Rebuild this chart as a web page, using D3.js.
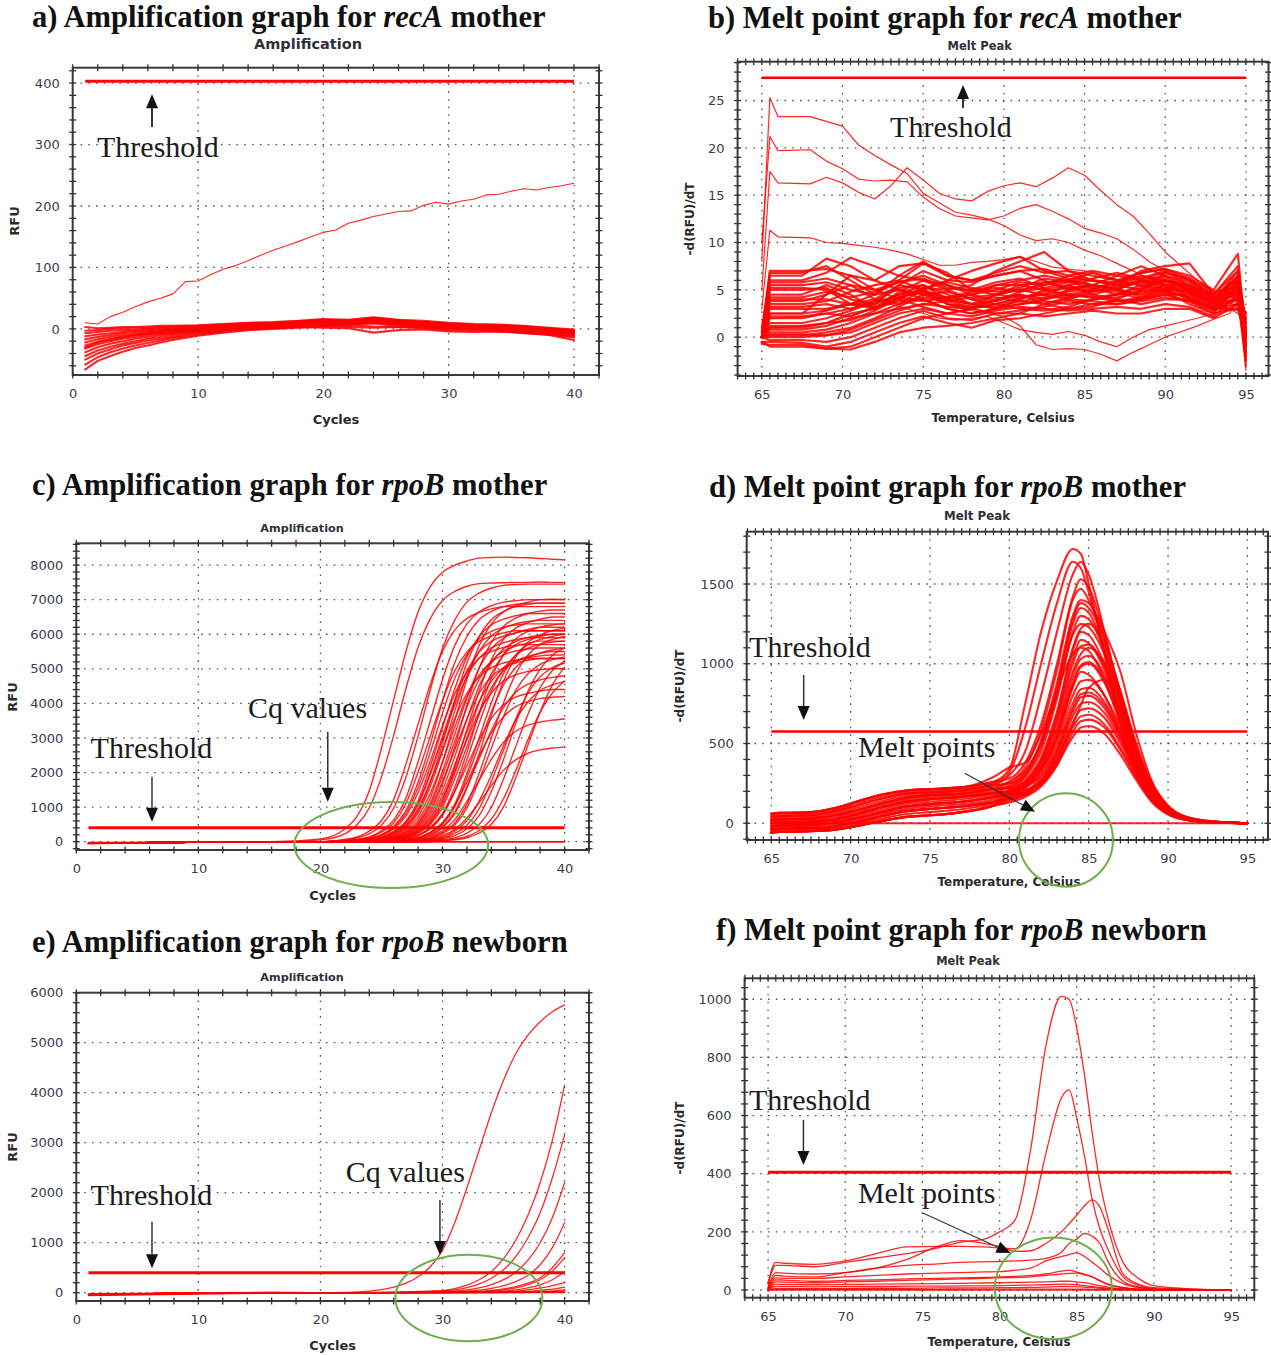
<!DOCTYPE html>
<html lang="en">
<head>
<meta charset="UTF-8">
<title>qPCR amplification and melt peak graphs</title>
<script src="https://d3js.org/d3.v7.min.js"></script>
<style>
  html, body { margin: 0; padding: 0; background: #fff; }
</style>
</head>
<body>
<div id="chart"></div>
<script>
// ---------- values ----------

// a) recA mother, amplification (RFU per cycle)
const aCycles = d3.range(1, 41);
const aRising = [10, 8, 20, 27, 36, 44, 50, 57, 77, 78, 88, 97, 103, 111, 120, 128, 135, 142, 150, 157,
  161, 172, 177, 183, 187, 191, 192, 201, 206, 203, 208, 211, 218, 219, 224, 228, 226, 230, 233, 237];
const aBaseCycles = [1, 2, 3, 4, 5, 6, 7, 8, 10, 12, 14, 16, 18, 20, 22, 24, 26, 28, 30, 32, 34, 36, 38, 40];
const aBaseline = [
  [-66, -52, -44, -37, -31, -27, -22, -18, -11, -6, -2, 0, 2, 4, 3, 2, 3, 1, -2, -3, -4, -7, -10, -18],
  [-58, -46, -38, -32, -27, -23, -19, -15, -9, -4, -1, 2, 3, 5, 6, 4, 3, 2, 0, -1, -2, -4, -9, -14],
  [-50, -40, -33, -27, -23, -19, -16, -13, -7, -3, 1, 2, 5, 6, 7, 9, 5, 4, 1, 0, -1, -3, -7, -12],
  [-44, -35, -29, -24, -20, -16, -13, -10, -5, -2, 2, 3, 6, 8, 7, 10, 7, 4, 2, 1, 0, -2, -6, -10],
  [-38, -30, -24, -20, -16, -13, -10, -8, -4, 0, 3, 5, 6, 9, 8, 11, 8, 6, 3, 2, 1, 0, -5, -9],
  [-32, -25, -20, -16, -13, -10, -8, -6, -2, 1, 4, 5, 8, 10, 9, 12, 9, 7, 4, 3, 1, -1, -4, -8],
  [-27, -21, -17, -13, -10, -8, -6, -4, -1, 2, 4, 7, 8, 12, 10, 13, 10, 8, 5, 3, 2, 0, -3, -7],
  [-22, -17, -13, -10, -8, -6, -4, -2, 0, 3, 5, 7, 9, 11, 11, 15, 12, 9, 6, 5, 3, 1, -2, -6],
  [-17, -13, -10, -7, -5, -4, -2, -1, 1, 4, 6, 8, 10, 12, 12, 16, 13, 10, 7, 5, 4, 2, -1, -5],
  [-12, -9, -7, -5, -3, -2, -1, 0, 2, 5, 7, 9, 11, 13, 13, 18, 14, 11, 8, 6, 5, 3, 0, -4],
  [-7, -5, -3, -2, -1, 0, 1, 2, 4, 6, 8, 10, 12, 15, 14, 16, 12, 11, 9, 7, 6, 4, 1, -3],
  [-3, -2, 0, 1, 2, 2, 3, 4, 5, 7, 9, 10, 12, 14, 13, 12, 11, 10, 8, 6, 5, 3, 0, -2],
  [3, 1, 2, 3, 3, 4, 5, 5, 6, 8, 10, 11, 13, 16, 15, 19, 15, 13, 10, 8, 7, 5, 2, -1],
  [-30, -22, -17, -13, -10, -8, -6, -5, -3, -1, 1, 2, 3, 2, 1, -6, -2, -1, -4, -5, -4, -6, -9, -12]
];
const aThreshold = 403;

// b) recA mother, melt peak (-d(RFU)/dT per degree C)
const bTempsFine = [65, 65.5, 66, 68, 69, 70, 71, 72, 73, 74, 75, 76, 77, 78, 79, 80, 81, 82, 83, 84,
  85, 86, 87, 88, 89, 90, 91, 92, 93, 94, 94.5, 95];
const bOutliers = [
  [8, 25.3, 23.3, 23.3, 22.8, 22.3, 20.3, 19.2, 18.2, 17.3, 15.2, 14.2, 13.2, 12.9, 12.5, 11.8, 10.8, 10.2, 10.4, 10, 9.2, 8.6, 7.8, 7, 6.2, 5.6, 5, 4.3, 3.6, 3, 2.5, 1.5],
  [10, 21.2, 19.7, 19.8, 18.6, 17.8, 16.7, 16.5, 16.6, 16.4, 14.8, 13.6, 12.8, 12.6, 12.4, 12.8, 13.6, 14, 13.3, 12.5, 11.5, 11, 10.4, 9.3, 8, 7, 6, 4.8, 3.5, 3, 3.5, 2],
  [5, 17.5, 16.3, 16.2, 16.9, 16.3, 15.3, 14.6, 16, 17.9, 16.6, 15.2, 14.6, 14.4, 15.4, 16, 16.3, 15.9, 16.8, 17.9, 17.1, 15.5, 14, 12.8, 11, 9, 7.5, 6, 4.5, 3.8, 3, 2.5],
  [3, 11.3, 10.6, 10.5, 10, 9.9, 9.7, 9.5, 9.2, 8.8, 8.2, 7.6, 7.6, 7.9, 8, 8.2, 8.5, 8, 7.4, 7.2, 7, 6.6, 6.1, 5.6, 5.1, 4.6, 4, 3.6, 3.2, 3, 2.8, 2],
  [0, 2, 2, 2.2, 2.8, 3.5, 3.3, 3, 4, 5, 4.5, 3.8, 3.2, 2.8, 2.5, 2.2, 1.2, -0.8, -1.3, -1.2, -1.3, -1.8, -2.5, -1.6, -0.8, 0, 0.6, 1.2, 1.9, 2.5, 4, 1],
  [0, 1, 1, 1.2, 1.5, 2, 2.5, 3, 3.5, 3, 2.5, 2, 1.8, 2, 2.2, 1.5, 0.8, 0.5, 0.3, 0.6, 0.2, -0.5, -1, 0, 0.8, 1.2, 1.6, 2, 2.5, 3, 6, -3.5]
];
const bTemps = [65, 65.5, 67.5, 69, 70.5, 72, 73.5, 75, 76.5, 78, 79.5, 81, 82.5, 84, 85.5, 87, 88.5, 90, 91.5, 93, 94.5, 95];
const bBand = [
  [0.5, 7, 7, 7.2, 6.5, 5, 5.8, 6.5, 5.5, 4.8, 5.5, 6, 6.5, 6, 5.5, 5, 6, 6.5, 5.5, 4, 5, 1],
  [0, 6.5, 6.5, 8.3, 7.5, 6, 7.5, 7.8, 6.5, 6, 6.8, 7.5, 6.8, 7, 6.5, 6, 6.8, 7.2, 6.5, 5, 8.8, 0],
  [1, 6, 6, 6.8, 8.4, 7.5, 6.5, 6, 5, 5.5, 7, 8, 9, 7, 6, 5.5, 7, 7.5, 7.8, 4.5, 6, -1],
  [0, 5.5, 5.5, 5.8, 5, 4.5, 6, 7.8, 6.8, 5, 4.5, 5, 5.5, 6.5, 7, 6.5, 6, 5.5, 5, 3.8, 7, 0.5],
  [0, 5, 5, 5.2, 4, 3.5, 5.5, 7, 6, 5.8, 6.5, 7, 6, 5, 5.5, 6.5, 7.5, 6.5, 5.8, 4, 5.5, -2],
  [0, 4.5, 4.5, 5.5, 4.5, 3, 4.8, 6, 5.5, 4.5, 5, 5.8, 5.5, 6, 6.8, 6, 5.5, 6, 5.5, 3.5, 6.5, 2],
  [0, 4, 4, 4, 3.5, 3.5, 4.5, 5.5, 4, 3.5, 4.5, 5, 4.5, 5.5, 6, 5.5, 5, 6.8, 6, 4.2, 5, -1.5],
  [0, 3.5, 3.5, 3.8, 4.8, 5.5, 6, 5, 4, 4.5, 5.5, 5.5, 5, 4.5, 5, 5.8, 6.5, 6, 5, 3.8, 4.5, 1],
  [0, 3, 3, 3, 3.5, 4, 5.5, 5, 3.5, 3, 4, 4.5, 4, 5, 5.5, 5, 4.5, 5.5, 5.5, 4.5, 7.5, -0.5],
  [0, 2.5, 2.5, 2.8, 3.5, 4.5, 5, 4.5, 4.8, 4, 3.5, 4, 5, 5.5, 4.5, 4, 5, 6, 5, 3.5, 4, 2.5],
  [0, 2, 2, 2.5, 3, 3.5, 4.5, 4.8, 3.5, 3.2, 3.5, 4.2, 4.5, 4, 4.8, 5.5, 6, 5.5, 4.5, 3.5, 5, 0],
  [0, 1.5, 1.5, 2, 2.8, 3.8, 5.2, 5.5, 4.5, 3.5, 3, 3.5, 4, 4.5, 4.2, 4.5, 5.5, 5, 4, 3, 6, -2.5],
  [0, 1, 1, 1.5, 2.5, 3, 4, 5.2, 5, 4, 4.2, 3.8, 3.5, 4.2, 5, 4.8, 4, 4.5, 4.5, 3, 3.5, 1.5],
  [0, 0.8, 0.8, 1.2, 2, 2.5, 3.5, 4, 3, 2.5, 3, 3.5, 3.8, 3.5, 4, 4.2, 4.8, 5.5, 4.2, 2.8, 4, -1],
  [0, 0.5, 0.5, 0.8, 1.5, 2.5, 3, 3.5, 3.2, 3, 2.5, 2.8, 3.2, 3.8, 3.5, 3.5, 4, 4.8, 3.5, 2.5, 5.5, 0],
  [0, 0.2, 0.2, 0.5, 1, 2, 3.2, 4.5, 4, 3.5, 3.8, 4.5, 3.5, 3, 3.2, 4, 3.5, 4, 4, 3, 3, 2],
  [0, 0, 0, 0.2, 0.5, 1.5, 2.5, 3, 2.5, 2.2, 2.8, 3.2, 3, 2.8, 3, 3.2, 3, 3.5, 3.2, 2.2, 4.5, -3],
  [0, -0.3, -0.3, -0.5, 0, 1, 2, 2.8, 2, 1.8, 2.5, 2.5, 2.2, 2.5, 2.8, 2.5, 2.5, 3, 3, 2, 3.5, -0.5],
  [-0.5, -0.5, -0.6, -1, -0.5, 0.5, 1.5, 2.2, 1.5, 1, 1.8, 2, 2.5, 3, 3.5, 3.8, 4, 4.5, 3.8, 2.8, 5.5, 1],
  [-0.7, -0.8, -0.8, -1.2, -1, 0, 1, 2, 2.5, 3, 3.5, 3, 2.8, 3.2, 4, 4.5, 4.8, 5, 4.2, 3, 4, -1.5],
  [-0.5, -1, -1, -1.2, -1.3, -0.5, 0.5, 1, 1.2, 1.5, 2, 2.5, 3.5, 4, 3.8, 3.5, 3.8, 4.2, 3.8, 2.5, 3, 0.5],
  [0, 2.5, 2.5, 4.5, 6.5, 6, 5, 4, 3, 2.5, 3, 4, 4.8, 5.2, 5.5, 5, 4.5, 5, 4.8, 3.5, 4.5, -1],
  [0, 6.8, 6.8, 7.5, 6, 4.5, 6.5, 8, 6.5, 6, 6.5, 7, 7.2, 6.5, 6, 5.8, 6.2, 7, 6, 4.5, 7, -0.5],
  [0, 3.8, 3.8, 4.5, 5.5, 5, 4, 3.2, 2.5, 3, 4.5, 5.5, 5.8, 6, 5.5, 5.2, 5.8, 6.3, 5.2, 3.5, 6, 0],
  [0, 5.8, 5.8, 6.2, 5.5, 4, 3.5, 5, 6, 7, 7.8, 8.5, 7, 6.2, 6, 5.5, 5.8, 6, 5.5, 4, 6.5, 0],
  [0, 4.2, 4.2, 4.8, 4.2, 4.8, 5.8, 6.2, 5.2, 5, 5.8, 6.2, 5.2, 5.8, 6.2, 6.8, 6.2, 6.8, 6.2, 4.8, 5.2, 0.5],
  [0, 3.2, 3.2, 3.5, 3, 3.8, 4.2, 3.8, 4.2, 4.8, 5.2, 4.8, 5.8, 5.2, 4.8, 5.2, 5.8, 5.2, 4.8, 3.2, 4.8, -1],
  [0, 2.2, 2.2, 2.5, 2.2, 3.2, 3.8, 4.2, 3.8, 4.2, 4.5, 4.2, 4.5, 4.8, 5.2, 4.5, 5.2, 5.8, 5.2, 3.8, 5.8, 1.5],
  [0, 1.2, 1.2, 1.5, 1.8, 2.8, 4.2, 4.8, 4.2, 4.5, 3.8, 4.8, 5.2, 4.2, 4.5, 5.2, 4.2, 4.8, 4.2, 3.2, 4.2, -2],
  [0, 5.2, 5.2, 5, 3.5, 3.2, 4.2, 5.2, 5.8, 5.2, 4.8, 5.2, 6.2, 5.8, 5.2, 5.8, 6.8, 7.2, 6.2, 4.2, 6.2, 0],
  [0, 0.3, 0.3, 0.2, 0.8, 1.8, 2.8, 3.5, 3.8, 3.2, 3.2, 3.8, 4.2, 4.5, 4.2, 3.8, 4.2, 5.2, 4.8, 3.5, 4.8, 0.8]
];
const bThreshold = 27.4;

// c) and e) share one cycle grid
const ampCycles = [1, 16, 20, 22, 23, 24, 25, 26, 27, 28, 29, 30, 31, 32, 33, 34, 35, 36, 37, 38, 39, 40];

// c) rpoB mother, amplification
const cCurves = [
  [-40, 0, 82, 369, 738, 1476, 2706, 4100, 5494, 6642, 7380, 7790, 7995, 8118, 8200, 8220, 8230, 8220, 8210, 8190, 8170, 8150],
  [-40, 0, 53, 225, 488, 975, 1875, 3075, 4425, 5625, 6450, 6975, 7238, 7388, 7463, 7480, 7490, 7500, 7500, 7510, 7500, 7500],
  [-40, 0, 0, 52, 112, 224, 484, 969, 1863, 3055, 4396, 5588, 6407, 6929, 7189, 7338, 7413, 7440, 7450, 7450, 7450, 7450],
  [-40, 0, 0, 35, 70, 140, 315, 630, 1260, 2310, 3500, 4690, 5670, 6300, 6650, 6825, 6930, 6970, 7000, 7000, 7010, 7000],
  [-40, 0, 0, 28, 48, 104, 207, 449, 897, 1725, 2829, 4071, 5175, 5934, 6417, 6659, 6797, 6866, 6900, 6900, 6900, 6900],
  [-40, 0, 0, 25, 44, 95, 189, 410, 819, 1575, 2583, 3717, 4725, 5418, 5859, 6080, 6206, 6269, 6300, 6300, 6300, 6300],
  [-40, 0, 0, 0, 33, 66, 132, 297, 594, 1188, 2178, 3300, 4422, 5346, 5940, 6270, 6435, 6534, 6600, 6600, 6600, 6600],
  [-40, 0, 0, 0, 30, 59, 118, 266, 531, 1062, 1947, 2950, 3953, 4779, 5310, 5605, 5753, 5841, 5900, 5900, 5900, 5900],
  [-40, 0, 0, 0, 26, 45, 96, 192, 416, 832, 1600, 2624, 3776, 4800, 5504, 5952, 6176, 6304, 6368, 6400, 6400, 6400],
  [-40, 0, 0, 0, 22, 39, 84, 168, 364, 728, 1400, 2296, 3304, 4200, 4816, 5208, 5404, 5516, 5572, 5600, 5600, 5600],
  [-40, 0, 0, 0, 0, 31, 62, 124, 279, 558, 1116, 2046, 3100, 4154, 5022, 5580, 5890, 6045, 6138, 6200, 6200, 6200],
  [-40, 0, 0, 0, 0, 27, 53, 106, 239, 477, 954, 1749, 2650, 3551, 4293, 4770, 5035, 5168, 5247, 5300, 5300, 5300],
  [-40, 0, 0, 0, 0, 24, 42, 90, 180, 390, 780, 1500, 2460, 3540, 4500, 5160, 5580, 5790, 5910, 5970, 6000, 6000],
  [-40, 0, 0, 0, 0, 20, 35, 75, 150, 325, 650, 1250, 2050, 2950, 3750, 4300, 4650, 4825, 4925, 4975, 5000, 5000],
  [-40, 0, 0, 0, 0, 0, 33, 65, 130, 293, 585, 1170, 2145, 3250, 4355, 5265, 5850, 6175, 6338, 6435, 6500, 6500],
  [-40, 0, 0, 0, 0, 0, 22, 44, 88, 198, 396, 792, 1452, 2200, 2948, 3564, 3960, 4180, 4290, 4356, 4400, 4400],
  [-40, 0, 0, 0, 0, 0, 23, 41, 87, 174, 377, 754, 1450, 2378, 3422, 4350, 4988, 5394, 5597, 5713, 5771, 5800],
  [-40, 0, 0, 0, 0, 0, 17, 29, 63, 126, 273, 546, 1050, 1722, 2478, 3150, 3612, 3906, 4053, 4137, 4179, 4200],
  [-40, 0, 0, 0, 0, 0, 0, 18, 36, 71, 160, 320, 639, 1172, 1775, 2379, 2876, 3195, 3373, 3461, 3515, 3550],
  [-40, 0, 0, 0, 0, 0, 0, 28, 56, 112, 252, 504, 1008, 1848, 2800, 3752, 4536, 5040, 5320, 5460, 5544, 5600],
  [-40, 0, 0, 0, 0, 0, 0, 11, 19, 41, 83, 179, 358, 688, 1128, 1623, 2063, 2365, 2558, 2654, 2709, 2736],
  [-40, 0, 0, 0, 0, 0, 0, 0, 27, 54, 108, 243, 486, 972, 1782, 2700, 3618, 4374, 4860, 5130, 5265, 5346],
  [-40, 0, 0, 0, 0, 0, 0, 0, 0, 27, 53, 106, 239, 477, 954, 1749, 2650, 3551, 4293, 4770, 5035, 5168],
  [-40, 0, 0, 0, 0, 0, 0, 0, 0, 0, 28, 55, 110, 248, 495, 990, 1815, 2750, 3685, 4455, 4950, 5225],
  [-40, 0, 0, 0, 0, 0, 0, 0, 0, 0, 20, 35, 75, 150, 325, 650, 1250, 2050, 2950, 3750, 4300, 4650],
  [-40, 0, 0, 0, 0, 0, 0, 0, 0, 0, 0, 28, 56, 112, 252, 504, 1008, 1848, 2800, 3752, 4536, 5040],
  [-40, 0, 0, 68, 136, 306, 612, 1224, 2244, 3400, 4556, 5508, 6120, 6460, 6630, 6732, 6800, 6800, 6800, 6800, 6800, 6800],
  [-40, 0, 0, 0, 0, 35, 70, 140, 315, 630, 1260, 2310, 3500, 4690, 5670, 6300, 6650, 6825, 6930, 7000, 7000, 7000],
  [-40, 0, 0, 0, 31, 61, 122, 275, 549, 1098, 2013, 3050, 4087, 4941, 5490, 5795, 5948, 6039, 6100, 6100, 6100, 6100],
  [-40, 0, 0, 0, 0, 0, 0, 25, 43, 93, 186, 403, 806, 1550, 2542, 3658, 4650, 5332, 5766, 5983, 6107, 6169],
  [-40, 0, 0, 0, 0, 0, 0, 0, 19, 33, 71, 141, 306, 611, 1175, 1927, 2773, 3525, 4042, 4371, 4536, 4630],
  [-40, 0, 0, 31, 61, 122, 275, 549, 1098, 2013, 3050, 4087, 4941, 5490, 5795, 5948, 6039, 6100, 6100, 6100, 6100, 6100],
  [-40, 0, 0, 0, 28, 48, 104, 207, 449, 897, 1725, 2829, 4071, 5175, 5934, 6417, 6659, 6797, 6866, 6900, 6900, 6900],
  [-40, 0, 0, 0, 0, 29, 58, 116, 261, 522, 1044, 1914, 2900, 3886, 4698, 5220, 5510, 5655, 5742, 5800, 5800, 5800],
  [-40, 0, 0, 0, 0, 27, 47, 101, 201, 436, 871, 1675, 2747, 3953, 5025, 5762, 6231, 6466, 6600, 6667, 6700, 6700],
  [-40, 0, 0, 0, 0, 0, 28, 55, 110, 248, 495, 990, 1815, 2750, 3685, 4455, 4950, 5225, 5363, 5445, 5500, 5500],
  [-40, 0, 0, 0, 0, 0, 25, 44, 95, 189, 410, 819, 1575, 2583, 3717, 4725, 5418, 5859, 6080, 6206, 6269, 6300],
  [-40, 0, 0, 0, 0, 0, 0, 30, 60, 120, 270, 540, 1080, 1980, 3000, 4020, 4860, 5400, 5700, 5850, 5940, 6000],
  [-40, 0, 0, 0, 27, 53, 106, 239, 477, 954, 1749, 2650, 3551, 4293, 4770, 5035, 5168, 5247, 5300, 5300, 5300, 5300],
  [-40, 0, 0, 23, 40, 86, 171, 371, 741, 1425, 2337, 3363, 4275, 4902, 5301, 5501, 5615, 5672, 5700, 5700, 5700, 5700],
  [-40, 0, 0, 0, 0, 0, 0, 0, 30, 60, 120, 270, 540, 1080, 1980, 3000, 4020, 4860, 5400, 5700, 5850, 5940],
  [-40, 0, 0, 0, 0, 0, 0, 24, 48, 96, 216, 432, 864, 1584, 2400, 3216, 3888, 4320, 4560, 4680, 4752, 4800],
  [-40, 0, 0, 0, 0, 0, 0, 0, 0, 23, 41, 87, 174, 377, 754, 1450, 2378, 3422, 4350, 4988, 5394, 5597],
  [-40, 0, 0, 0, 0, 22, 38, 81, 162, 351, 702, 1350, 2214, 3186, 4050, 4644, 5022, 5211, 5319, 5373, 5400, 5400],
  [-40, 0, 0, 0, 0, 0, 30, 60, 120, 270, 540, 1080, 1980, 3000, 4020, 4860, 5400, 5700, 5850, 5940, 6000, 6000],
  [-60, 0, 0, 0, 0, 0, 0, 0, 0, 0, 0, 0, 0, 0, 0, 0, 0, 0, 0, 0, 0, 0],
  [-20, 0, 0, 0, 0, 0, 0, 0, 0, 0, 0, 0, 0, 0, 0, 0, 0, 0, 0, 0, 0, 0]
];
const cThreshold = 400;

// d) rpoB mother, melt peak
const dTemps = [65, 65.5, 66, 67.5, 69, 70.5, 72, 73.5, 75, 77, 79, 80, 81, 82, 83, 84, 84.5, 85, 86, 87, 88, 89, 90, 91, 92.5, 95];
const dCurves = [
  [60, 65, 65, 70, 95, 140, 180, 205, 215, 225, 260, 340, 750, 1200, 1520, 1720, 1690, 1500, 1050, 620, 320, 150, 60, 25, 8, 0],
  [40, 45, 45, 50, 75, 115, 155, 185, 195, 205, 240, 300, 450, 800, 1200, 1560, 1640, 1560, 1200, 780, 420, 200, 80, 30, 10, 0],
  [60, 65, 65, 70, 95, 140, 180, 205, 215, 225, 260, 280, 380, 620, 1000, 1420, 1530, 1480, 1180, 800, 450, 220, 90, 35, 12, 0],
  [20, 25, 25, 30, 50, 85, 125, 160, 175, 185, 215, 260, 350, 580, 960, 1400, 1470, 1400, 1150, 820, 480, 240, 100, 40, 12, 0],
  [40, 45, 45, 50, 75, 115, 155, 185, 195, 205, 240, 250, 320, 520, 880, 1300, 1400, 1380, 1200, 950, 560, 260, 110, 45, 15, 0],
  [0, 5, 5, 10, 25, 60, 100, 135, 150, 165, 190, 230, 300, 480, 820, 1250, 1350, 1320, 1100, 780, 450, 210, 90, 35, 12, 0],
  [20, 25, 25, 30, 50, 85, 125, 160, 175, 185, 215, 225, 290, 450, 780, 1200, 1300, 1280, 1080, 760, 430, 200, 85, 30, 10, 0],
  [-20, -15, -15, -10, 5, 35, 70, 105, 120, 135, 165, 210, 270, 410, 700, 1100, 1220, 1250, 1120, 830, 500, 250, 110, 45, 15, 0],
  [0, 5, 5, 10, 25, 60, 100, 135, 150, 165, 190, 200, 260, 400, 680, 1080, 1200, 1180, 1000, 720, 410, 190, 80, 30, 10, 0],
  [-40, -35, -35, -30, -20, 10, 45, 75, 90, 105, 135, 190, 250, 380, 650, 1030, 1150, 1130, 960, 690, 400, 190, 80, 30, 10, 0],
  [-20, -15, -15, -10, 5, 35, 70, 105, 120, 135, 165, 190, 240, 360, 600, 950, 1060, 1100, 1000, 760, 460, 230, 100, 40, 12, 0],
  [-60, -55, -55, -50, -40, -15, 15, 40, 50, 70, 110, 175, 230, 350, 580, 920, 1030, 1050, 930, 680, 400, 190, 80, 30, 10, 0],
  [20, 25, 25, 30, 50, 85, 125, 160, 175, 185, 215, 220, 260, 340, 550, 870, 980, 1000, 880, 640, 380, 180, 75, 30, 10, 0],
  [-40, -35, -35, -30, -20, 10, 45, 75, 90, 105, 135, 175, 220, 320, 530, 850, 950, 930, 800, 570, 330, 150, 60, 25, 8, 0],
  [0, 5, 5, 10, 25, 60, 100, 135, 150, 165, 190, 200, 230, 300, 500, 800, 890, 900, 800, 600, 360, 170, 70, 28, 8, 0],
  [-60, -55, -55, -50, -40, -15, 15, 40, 50, 70, 110, 160, 200, 290, 470, 750, 840, 850, 760, 560, 340, 160, 65, 25, 8, 0],
  [-20, -15, -15, -10, 5, 35, 70, 105, 120, 135, 165, 180, 200, 270, 440, 700, 790, 800, 720, 540, 330, 160, 70, 28, 8, 0],
  [-40, -35, -35, -30, -20, 10, 45, 75, 90, 105, 135, 160, 190, 260, 420, 670, 750, 760, 690, 520, 320, 150, 65, 25, 8, 0],
  [-60, -55, -55, -50, -40, -15, 15, 40, 50, 70, 110, 140, 180, 250, 400, 630, 710, 720, 660, 500, 310, 150, 60, 25, 8, 0],
  [0, 5, 5, 10, 25, 60, 100, 135, 150, 165, 190, 200, 210, 250, 380, 600, 670, 680, 620, 470, 290, 140, 60, 25, 8, 0],
  [-60, -55, -55, -50, -40, -15, 15, 40, 50, 70, 110, 130, 165, 230, 360, 570, 640, 650, 600, 460, 290, 140, 60, 25, 8, 0],
  [60, 65, 65, 70, 95, 140, 180, 205, 215, 225, 290, 350, 380, 560, 830, 1060, 1100, 1080, 900, 620, 350, 160, 70, 28, 8, 0],
  [-40, -35, -35, -30, -20, 10, 45, 75, 90, 105, 135, 150, 175, 240, 370, 540, 600, 610, 560, 430, 270, 130, 55, 22, 7, 0],
  [-20, -15, -15, -10, 5, 35, 70, 105, 120, 135, 165, 175, 200, 260, 400, 620, 740, 850, 900, 720, 440, 210, 90, 35, 10, 0],
  [50, 55, 55, 60, 85, 128, 168, 195, 205, 215, 250, 320, 600, 1000, 1380, 1640, 1600, 1450, 1080, 680, 370, 170, 70, 28, 8, 0],
  [10, 15, 15, 20, 38, 72, 112, 148, 162, 175, 202, 240, 310, 500, 850, 1280, 1380, 1350, 1150, 820, 470, 220, 95, 38, 12, 0],
  [-30, -25, -25, -20, -8, 22, 58, 90, 105, 120, 150, 200, 250, 380, 640, 1000, 1110, 1120, 980, 720, 420, 200, 85, 32, 10, 0],
  [-50, -45, -45, -40, -30, -2, 30, 58, 70, 88, 122, 150, 190, 270, 450, 720, 810, 820, 740, 550, 330, 160, 65, 25, 8, 0],
  [30, 35, 35, 40, 62, 100, 140, 172, 185, 195, 228, 260, 330, 500, 800, 1180, 1250, 1230, 1060, 780, 460, 220, 95, 38, 12, 0],
  [-10, -5, -5, 0, 15, 48, 85, 120, 135, 150, 178, 190, 230, 330, 540, 880, 990, 1010, 900, 660, 390, 180, 75, 30, 10, 0],
  [0, 0, 0, 0, 0, 0, 0, 0, 0, 0, 0, 0, 0, 0, 0, 0, 0, 0, 0, 0, 0, 0, 0, 0, 0, 0]
];
const dThreshold = 575;

// e) rpoB newborn, amplification
const eCurves = [
  [-40, 0, 0, 5, 15, 30, 60, 110, 190, 320, 520, 850, 1400, 2100, 2850, 3600, 4250, 4780, 5150, 5420, 5620, 5750],
  [-40, 0, 0, 0, 0, 5, 8, 12, 18, 25, 32, 40, 80, 150, 260, 420, 680, 1050, 1550, 2200, 3050, 4150],
  [-40, 0, 0, 0, 0, 0, 5, 8, 12, 18, 24, 30, 55, 100, 175, 290, 460, 720, 1100, 1600, 2300, 3150],
  [-40, 0, 0, 0, 0, 0, 0, 5, 8, 12, 18, 22, 30, 55, 95, 160, 260, 410, 650, 1000, 1500, 2200],
  [-40, 0, 0, 0, 0, 0, 0, 0, 5, 8, 12, 16, 22, 30, 50, 85, 140, 220, 350, 560, 900, 1400],
  [-40, 0, 0, 0, 0, 0, 0, 0, 0, 5, 8, 12, 16, 20, 25, 45, 75, 120, 190, 300, 500, 800],
  [-40, 0, 0, 0, 0, 0, 0, 0, 0, 0, 5, 8, 12, 16, 20, 30, 55, 95, 160, 260, 430, 700],
  [-40, 0, 0, 0, 0, 0, 0, 0, 0, 0, 0, 5, 8, 12, 16, 20, 30, 55, 95, 160, 260, 420],
  [-40, 0, 0, 0, 0, 0, 0, 0, 0, 0, 0, 0, 5, 8, 12, 16, 20, 30, 55, 90, 140, 200],
  [-40, 0, 0, 0, 0, 0, 0, 0, 0, 0, 0, 0, 0, 5, 8, 12, 16, 20, 25, 45, 70, 110],
  [-50, 0, 0, 0, 0, 0, 0, 0, 0, 0, 0, 0, 0, 0, 5, 8, 12, 15, 18, 20, 35, 55],
  [-30, 0, 0, 0, 0, 0, 0, 0, 0, 0, 0, 0, 0, 0, 0, 0, 5, 8, 12, 15, 20, 30],
  [-60, -10, 0, 0, 0, 0, 0, 0, 0, 0, 0, 0, 0, 0, 0, 0, 0, 0, 5, 8, 10, 15],
  [-20, 10, 0, 0, 0, 0, 0, 0, 0, 0, 0, 0, 0, 0, 0, 0, 0, 0, 0, 0, 0, 0]
];
const eThreshold = 400;

// f) rpoB newborn, melt peak
const fTemps = [65, 65.5, 66, 68, 70, 72, 74, 76, 77.5, 79, 80, 81, 82, 83, 84, 84.5, 85, 85.5, 86, 86.5, 87, 88, 89, 90, 92, 95];
const fCurves = [
  [20, 85, 85, 80, 95, 110, 125, 145, 165, 175, 200, 240, 480, 840, 1010, 1000, 900, 740, 540, 370, 250, 95, 40, 15, 5, 0],
  [25, 95, 92, 88, 100, 125, 148, 150, 150, 148, 145, 142, 240, 470, 660, 688, 590, 460, 310, 210, 143, 45, 15, 5, 2, 0],
  [10, 60, 58, 55, 60, 75, 105, 150, 170, 160, 150, 133, 135, 160, 200, 228, 258, 290, 310, 285, 213, 55, 20, 8, 3, 0],
  [8, 50, 48, 45, 60, 75, 85, 90, 95, 97, 98, 100, 103, 109, 130, 160, 175, 195, 185, 160, 100, 30, 10, 4, 2, 0],
  [5, 42, 40, 40, 45, 50, 55, 58, 60, 62, 63, 68, 75, 100, 115, 122, 128, 115, 95, 75, 52, 22, 8, 3, 1, 0],
  [4, 35, 34, 30, 33, 35, 38, 40, 42, 43, 45, 47, 50, 55, 65, 68, 62, 55, 45, 32, 20, 8, 3, 1, 0, 0],
  [3, 28, 27, 25, 28, 30, 33, 36, 38, 40, 42, 43, 45, 50, 55, 57, 58, 52, 45, 32, 20, 8, 3, 1, 0, 0],
  [2, 20, 19, 18, 19, 20, 21, 22, 23, 24, 25, 26, 27, 28, 30, 30, 28, 25, 20, 15, 10, 4, 2, 1, 0, 0],
  [1, 12, 12, 11, 12, 12, 13, 13, 14, 14, 15, 16, 17, 18, 20, 20, 18, 15, 12, 9, 6, 3, 1, 0, 0, 0],
  [0, 5, 5, 5, 5, 6, 6, 7, 7, 7, 8, 8, 9, 10, 12, 12, 11, 10, 8, 6, 4, 2, 1, 0, 0, 0],
  [0, 2, 2, 2, 2, 2, 2, 2, 3, 3, 3, 3, 3, 3, 3, 3, 3, 3, 2, 2, 2, 1, 1, 0, 0, 0],
  [0, 0, 0, 0, 0, 0, 0, 0, 0, 0, 0, 0, 0, 0, 0, 0, 0, 0, 0, 0, 0, 0, 0, 0, 0, 0]
];
const fThreshold = 405;

// ---------- layout ----------
const width = 1271;
const height = 1355;
const red = '#ff0000';
const serif = '"Liberation Serif", "Times New Roman", serif';
const sans = '"DejaVu Sans", Verdana, sans-serif';

const panels = [
  {
    box: { left: 72.7, right: 599, top: 67.7, bottom: 375 },
    xDomain: [0, 42], yDomain: [-75, 425],
    xTicks: [0, 10, 20, 30, 40], yTicks: [0, 100, 200, 300, 400], xMinor: 2, yMinor: 20,
    title: ['a) Amplification graph for ', 'recA', ' mother'], titleAt: [32, 27],
    sub: 'Amplification', subAt: [308, 44], subSize: 14.5,
    xLabel: 'Cycles', xLabelAt: [336, 419], yLabel: 'RFU', yLabelAt: [14, 221], labelSize: 13,
    series: [
      { xs: aBaseCycles, rows: aBaseline, w: 2.1, curve: d3.curveLinear },
      { xs: aCycles, rows: [aRising], w: 1.1, curve: d3.curveLinear }
    ],
    threshold: { v: aThreshold, from: 1, to: 40, w: 3 },
    notes: [{ x: 1.94, y: 279.7, text: 'Threshold' }],
    arrows: [{ x1: 6.33, y1: 328.5, x2: 6.33, y2: 382, w: 2 }],
    rings: []
  },
  {
    box: { left: 737.6, right: 1268.5, top: 61.7, bottom: 376 },
    xDomain: [63.5, 96.4], yDomain: [-4.1, 29.1],
    xTicks: [65, 70, 75, 80, 85, 90, 95], yTicks: [0, 5, 10, 15, 20, 25], xMinor: 0.5, yMinor: 1,
    title: ['b) Melt point graph for ', 'recA', ' mother'], titleAt: [708, 28],
    sub: 'Melt Peak', subAt: [979.7, 45.8], subSize: 11.5,
    xLabel: 'Temperature, Celsius', xLabelAt: [1003, 417.3], yLabel: '-d(RFU)/dT', yLabelAt: [690, 219], labelSize: 12,
    series: [
      { xs: bTemps, rows: bBand, w: 2.2, curve: d3.curveLinear },
      { xs: bTempsFine, rows: bOutliers, w: 1.2, curve: d3.curveLinear }
    ],
    threshold: { v: bThreshold, from: 65, to: 95, w: 2.5 },
    notes: [{ x: 72.95, y: 21.18, text: 'Threshold' }],
    arrows: [{ x1: 77.47, y1: 24.2, x2: 77.47, y2: 26.64, w: 2 }],
    rings: []
  },
  {
    box: { left: 76.3, right: 589, top: 543.3, bottom: 850 },
    xDomain: [0, 42], yDomain: [-240, 8630],
    xTicks: [0, 10, 20, 30, 40], yTicks: d3.range(0, 8001, 1000), xMinor: 2, yMinor: 200,
    title: ['c) Amplification graph for ', 'rpoB', ' mother'], titleAt: [32, 495],
    sub: 'Amplification', subAt: [302, 527.7], subSize: 11.2,
    xLabel: 'Cycles', xLabelAt: [332.6, 895], yLabel: 'RFU', yLabelAt: [12, 697], labelSize: 13,
    series: [{ xs: ampCycles, rows: cCurves, w: 1.4, curve: d3.curveMonotoneX }],
    threshold: { v: cThreshold, from: 1, to: 40, w: 3 },
    notes: [{ x: 1.17, y: 2412, text: 'Threshold' }, { x: 14.06, y: 3569, text: 'Cq values' }],
    arrows: [{ x1: 6.2, y1: 1880, x2: 6.2, y2: 579, w: 1.5 }, { x1: 20.6, y1: 3182, x2: 20.6, y2: 1157, w: 1.5 }],
    rings: [{ cx: 25.8, cy: -95, rx: 7.94, ry: 1244 }]
  },
  {
    box: { left: 746.7, right: 1268, top: 531.7, bottom: 840 },
    xDomain: [63.45, 96.3], yDomain: [-105, 1828],
    xTicks: [65, 70, 75, 80, 85, 90, 95], yTicks: [0, 500, 1000, 1500], xMinor: 0.5, yMinor: 100,
    title: ['d) Melt point graph for ', 'rpoB', ' mother'], titleAt: [709, 497],
    sub: 'Melt Peak', subAt: [977, 516], subSize: 11.8,
    xLabel: 'Temperature, Celsius', xLabelAt: [1009, 881.7], yLabel: '-d(RFU)/dT', yLabelAt: [679.5, 686], labelSize: 12,
    series: [{ xs: dTemps, rows: dCurves, w: 2.1, curve: d3.curveMonotoneX }],
    threshold: { v: dThreshold, from: 65, to: 95, w: 2.5 },
    notes: [{ x: 63.6, y: 1043.6, text: 'Threshold' }, { x: 70.46, y: 417, text: 'Melt points' }],
    arrows: [{ x1: 67.04, y1: 929, x2: 67.04, y2: 647, w: 1.5 }, { x1: 77.19, y1: 313, x2: 81.62, y2: 72, w: 1.2 }],
    rings: [{ cx: 83.57, cy: -105, rx: 2.96, ry: 292.6 }]
  },
  {
    box: { left: 76.3, right: 589, top: 992.7, bottom: 1301 },
    xDomain: [0, 42], yDomain: [-166, 6000],
    xTicks: [0, 10, 20, 30, 40], yTicks: d3.range(0, 6001, 1000), xMinor: 2, yMinor: 200,
    title: ['e) Amplification graph for ', 'rpoB', ' newborn'], titleAt: [32, 952],
    sub: 'Amplification', subAt: [302, 976.7], subSize: 11.2,
    xLabel: 'Cycles', xLabelAt: [332.6, 1345], yLabel: 'RFU', yLabelAt: [12, 1147], labelSize: 13,
    series: [{ xs: ampCycles, rows: eCurves, w: 1.3, curve: d3.curveMonotoneX }],
    threshold: { v: eThreshold, from: 1, to: 40, w: 3 },
    notes: [{ x: 1.17, y: 1752, text: 'Threshold' }, { x: 22.07, y: 2218, text: 'Cq values' }],
    arrows: [{ x1: 6.2, y1: 1419, x2: 6.2, y2: 487, w: 1.5 }, { x1: 29.79, y1: 1852, x2: 29.79, y2: 753, w: 1.5 }],
    rings: [{ cx: 32.16, cy: -106, rx: 6.02, ry: 865 }]
  },
  {
    box: { left: 744.6, right: 1254.3, top: 978.3, bottom: 1297.7 },
    xDomain: [63.48, 96.5], yDomain: [-26.5, 1072],
    xTicks: [65, 70, 75, 80, 85, 90, 95], yTicks: [0, 200, 400, 600, 800, 1000], xMinor: 0.5, yMinor: 40,
    title: ['f) Melt point graph for ', 'rpoB', ' newborn'], titleAt: [716, 940],
    sub: 'Melt Peak', subAt: [968, 960.7], subSize: 11.4,
    xLabel: 'Temperature, Celsius', xLabelAt: [999, 1341.7], yLabel: '-d(RFU)/dT', yLabelAt: [679.5, 1138], labelSize: 12,
    series: [{ xs: fTemps, rows: fCurves, w: 1.3, curve: d3.curveMonotoneX }],
    threshold: { v: fThreshold, from: 65, to: 95, w: 3 },
    notes: [{ x: 63.76, y: 619, text: 'Threshold' }, { x: 70.82, y: 298, text: 'Melt points' }],
    arrows: [{ x1: 67.29, y1: 585, x2: 67.29, y2: 430, w: 1.5 }, { x1: 75.03, y1: 265, x2: 80.71, y2: 127, w: 1.2 }],
    rings: [{ cx: 83.48, cy: 5.8, rx: 3.79, ry: 174.8 }]
  }
];

const svg = d3.select('#chart').append('svg')
  .attr('width', width)
  .attr('height', height)
  .style('background', '#fff');

// minor tick values inside a domain
const steps = (dom, step) => d3.range(Math.ceil(dom[0] / step) * step, dom[1] + 1e-9, step)
  .filter(v => v >= dom[0] && v <= dom[1]);

function arrowHead(g, x1, y1, x2, y2, w) {
  const len = Math.hypot(x2 - x1, y2 - y1);
  const ux = (x2 - x1) / len, uy = (y2 - y1) / len;
  const hl = 14, hw = 6;
  const bx = x2 - ux * hl, by = y2 - uy * hl;
  g.append('line')
    .attr('x1', x1).attr('y1', y1).attr('x2', bx).attr('y2', by)
    .attr('stroke', '#333').attr('stroke-width', w);
  g.append('path')
    .attr('d', `M${x2},${y2}L${bx - uy * hw},${by + ux * hw}L${bx + uy * hw},${by - ux * hw}Z`)
    .attr('fill', '#111');
}

function drawPanel(p) {
  const b = p.box;
  const x = d3.scaleLinear().domain(p.xDomain).range([b.left, b.right]);
  const y = d3.scaleLinear().domain(p.yDomain).range([b.bottom, b.top]);
  const g = svg.append('g');

  // heading
  const t = g.append('text')
    .attr('x', p.titleAt[0]).attr('y', p.titleAt[1])
    .attr('font-family', serif).attr('font-weight', 'bold').attr('font-size', 30.6).attr('fill', '#111');
  t.append('tspan').text(p.title[0]);
  t.append('tspan').attr('font-style', 'italic').text(p.title[1]);
  t.append('tspan').text(p.title[2]);

  g.append('text')
    .attr('x', p.subAt[0]).attr('y', p.subAt[1]).attr('dy', '0.35em')
    .attr('text-anchor', 'middle')
    .attr('font-family', sans).attr('font-weight', 'bold').attr('font-size', p.subSize)
    .attr('fill', '#2f2f3a')
    .text(p.sub);

  // dotted grid
  const grid = g.append('g')
    .attr('stroke', '#555').attr('stroke-width', 1.3).attr('stroke-dasharray', '1.6,6.2');
  grid.selectAll('.gx').data(p.xTicks.filter(v => v > p.xDomain[0] && v < p.xDomain[1]))
    .join('line').attr('class', 'gx')
    .attr('x1', d => x(d)).attr('x2', d => x(d)).attr('y1', b.top).attr('y2', b.bottom);
  grid.selectAll('.gy').data(p.yTicks.filter(v => v > p.yDomain[0] && v < p.yDomain[1]))
    .join('line').attr('class', 'gy')
    .attr('y1', d => y(d)).attr('y2', d => y(d)).attr('x1', b.left).attr('x2', b.right);

  // traces
  p.series.forEach(s => {
    const line = d3.line()
      .x((d, i) => x(s.xs[i]))
      .y(d => y(d))
      .curve(s.curve);
    g.append('g').selectAll('path').data(s.rows).join('path')
      .attr('d', line)
      .attr('fill', 'none')
      .attr('stroke', red)
      .attr('stroke-opacity', 0.85)
      .attr('stroke-width', s.w)
      .attr('stroke-linejoin', 'round')
      .attr('stroke-linecap', 'round');
  });

  // threshold
  g.append('line')
    .attr('x1', x(p.threshold.from)).attr('x2', x(p.threshold.to))
    .attr('y1', y(p.threshold.v)).attr('y2', y(p.threshold.v))
    .attr('stroke', red).attr('stroke-width', p.threshold.w);

  // frame and tick marks on all four sides
  g.append('rect')
    .attr('x', b.left).attr('y', b.top)
    .attr('width', b.right - b.left).attr('height', b.bottom - b.top)
    .attr('fill', 'none').attr('stroke', '#3a3a3a').attr('stroke-width', 2);
  const tk = g.append('g').attr('stroke', '#333').attr('stroke-width', 1.3);
  steps(p.xDomain, p.xMinor).forEach(v => {
    [b.top, b.bottom].forEach(yy => {
      tk.append('line').attr('x1', x(v)).attr('x2', x(v)).attr('y1', yy - 3.5).attr('y2', yy + 3.5);
    });
  });
  steps(p.yDomain, p.yMinor).forEach(v => {
    [b.left, b.right].forEach(xx => {
      tk.append('line').attr('y1', y(v)).attr('y2', y(v)).attr('x1', xx - 3.5).attr('x2', xx + 3.5);
    });
  });

  // tick labels
  const fmt = d3.format('d');
  const ax = g.append('g').attr('transform', `translate(0,${b.bottom})`)
    .call(d3.axisBottom(x).tickValues(p.xTicks).tickSize(0).tickPadding(14).tickFormat(fmt));
  const ay = g.append('g').attr('transform', `translate(${b.left},0)`)
    .call(d3.axisLeft(y).tickValues(p.yTicks).tickSize(0).tickPadding(13).tickFormat(fmt));
  [ax, ay].forEach(a => {
    a.select('.domain').remove();
    a.attr('font-family', sans).attr('font-size', 13);
    a.selectAll('text').attr('fill', '#3b3b4b');
  });

  // axis titles
  g.append('text')
    .attr('x', p.xLabelAt[0]).attr('y', p.xLabelAt[1]).attr('dy', '0.35em')
    .attr('text-anchor', 'middle')
    .attr('font-family', sans).attr('font-weight', 'bold').attr('font-size', p.labelSize)
    .attr('fill', '#2a2a2a').text(p.xLabel);
  g.append('text')
    .attr('transform', `translate(${p.yLabelAt[0]},${p.yLabelAt[1]}) rotate(-90)`)
    .attr('dy', '0.35em').attr('text-anchor', 'middle')
    .attr('font-family', sans).attr('font-weight', 'bold').attr('font-size', p.labelSize)
    .attr('fill', '#2a2a2a').text(p.yLabel);

  // annotations
  p.rings.forEach(r => {
    g.append('ellipse')
      .attr('cx', x(r.cx)).attr('cy', y(r.cy))
      .attr('rx', x(r.cx + r.rx) - x(r.cx)).attr('ry', y(r.cy) - y(r.cy + r.ry))
      .attr('fill', 'none').attr('stroke', '#6fae4c').attr('stroke-width', 2);
  });
  p.notes.forEach(n => {
    g.append('text')
      .attr('x', x(n.x)).attr('y', y(n.y))
      .attr('font-family', serif).attr('font-size', 30).attr('fill', '#1c1c1c')
      .text(n.text);
  });
  p.arrows.forEach(a => arrowHead(g, x(a.x1), y(a.y1), x(a.x2), y(a.y2), a.w));
}

panels.forEach(drawPanel);
</script>
</body>
</html>
